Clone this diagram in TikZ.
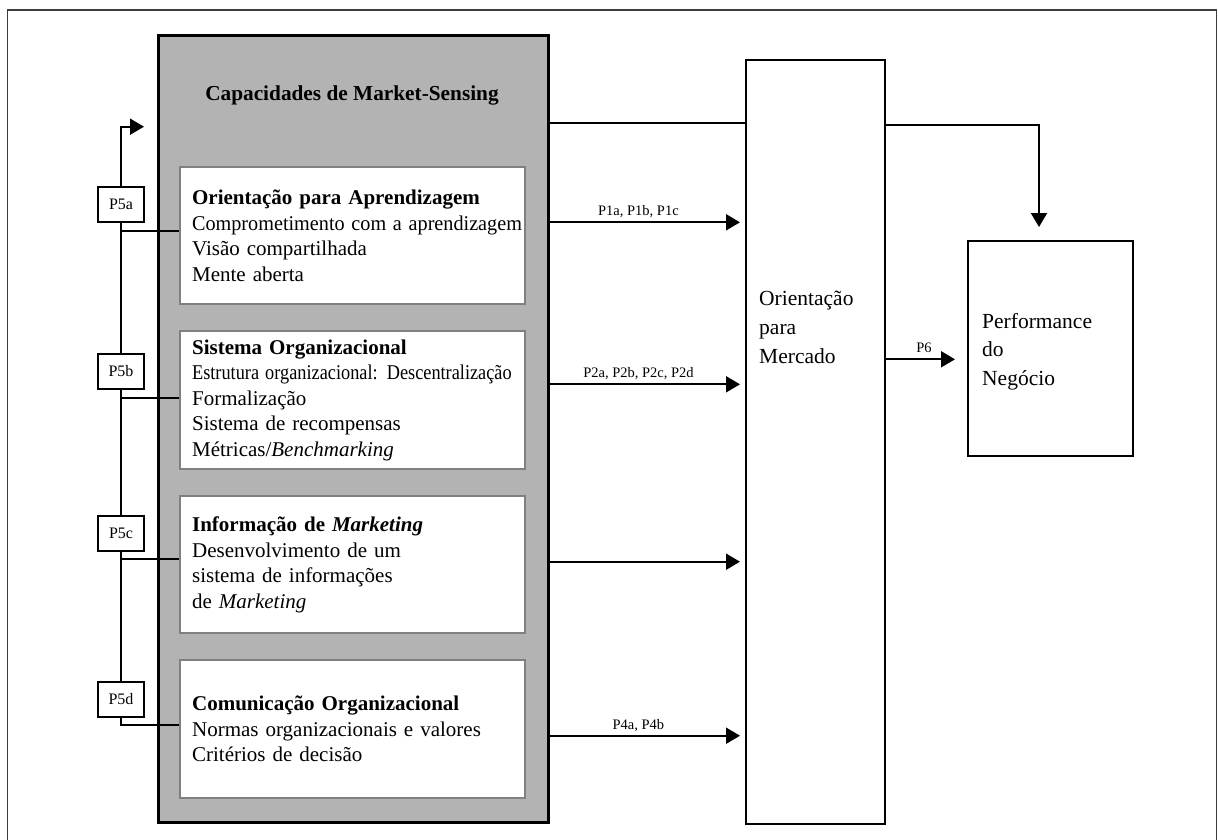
\documentclass[tikz,border=0pt]{standalone}
\usepackage{fontspec}
\usepackage{graphicx}
\setmainfont{Liberation Serif}
\usetikzlibrary{arrows.meta,calc}
\definecolor{msgray}{RGB}{179,179,179}
\definecolor{boxgray}{RGB}{128,128,128}
\definecolor{framegray}{RGB}{60,60,60}
\newcommand\fbody{\fontsize{21}{25.5}\selectfont}
\newcommand\fbig{\fontsize{21.5}{28.8}\selectfont}
\newcommand\fsmall{\fontsize{14.5}{17}\selectfont}
\newcommand\fpbox{\fontsize{16}{18}\selectfont}
\tikzset{
  msbox/.style={draw=black, line width=2.5pt, fill=msgray, inner sep=0pt, anchor=north west},
  wbox/.style={draw=boxgray, line width=2.2pt, fill=white, anchor=north west,
    inner xsep=12pt, inner ysep=0pt, text width=321pt, align=left,
    minimum width=345pt, font=\fbody},
  bbox/.style={draw=black, line width=2pt, fill=white, anchor=north west, inner sep=0pt},
  pbox/.style={draw=black, line width=2pt, fill=white, minimum width=46pt, minimum height=35pt,
    inner sep=0pt, font=\fpbox},
  conn/.style={draw=black, line width=2pt},
  arr/.style={conn, -{Triangle[length=14pt,width=16pt]}},
  plabel/.style={font=\fsmall, anchor=base, yshift=6.5pt, inner sep=0pt},
  frame/.style={draw=framegray, line width=1.5pt}
}
\begin{document}
\begin{tikzpicture}[x=1pt,y=-1pt]
\useasboundingbox (0,0) rectangle (1218,839);
\draw[frame] (7.5,10) rectangle (1216.5,870);

% main grey block
\node[msbox, minimum width=390pt, minimum height=787pt] (ms) at (157,34) {};
\node[font=\fontsize{21.3}{25}\selectfont\bfseries, anchor=base, inner sep=0pt] (mstitle) at (352,100.7) {Capacidades de Market-Sensing};

% inner white boxes
\node[wbox, minimum height=137pt] (b1) at (179,166) {\textbf{Orientação para Aprendizagem}\\
\scalebox{0.962}[1]{Comprometimento com a aprendizagem}\\
Visão compartilhada\\
Mente aberta};
\node[wbox, minimum height=138pt] (b2) at (179,330) {\textbf{Sistema Organizacional}\\
\scalebox{0.871}[1]{Estrutura organizacional: Descentralização}\\
Formalização\\
Sistema de recompensas\\
Métricas/\textit{Benchmarking}};
\node[wbox, minimum height=137pt] (b3) at (179,495) {\textbf{Informação de \textit{Marketing}}\\
Desenvolvimento de um\\
sistema de informações\\
de \textit{Marketing}};
\node[wbox, minimum height=138pt] (b4) at (179,659) {\textbf{Comunicação Organizacional}\\
Normas organizacionais e valores\\
Critérios de decisão};

% right boxes
\node[bbox, minimum width=139pt, minimum height=764pt] (om) at (745,59) {};
\node[font=\fbig, align=left, anchor=base west, inner sep=0pt] (omtext) at (759,363.3) {Orientação\\para\\Mercado};
\node[bbox, minimum width=165pt, minimum height=215pt] (perf) at (967,240) {};
\node[font=\fbig, align=left, anchor=base west, inner sep=0pt] (perftext) at (982,385.7) {Performance\\do\\Negócio};

% P5 boxes
\node[pbox] (p5a) at (121,204.7) {P5a};
\node[pbox] (p5b) at (121,371.5) {P5b};
\node[pbox] (p5c) at (121,533) {P5c};
\node[pbox] (p5d) at (121,699.2) {P5d};

% left feedback line
\coordinate (tl) at (121,126.7);
\draw[arr, shorten >=13pt] (p5a.north) -- (tl) -- (tl -| ms.west);
\draw[conn] (p5a.south) -- (p5b.north);
\draw[conn] (p5b.south) -- (p5c.north);
\draw[conn] (p5c.south) -- (p5d.north);
\path ([yshift=-7.5pt]p5a.south) coordinate (h5a);
\path ([yshift=-7.5pt]p5b.south) coordinate (h5b);
\path ([yshift=-7.5pt]p5c.south) coordinate (h5c);
\path ([yshift=-7.5pt]p5d.south) coordinate (h5d);
\draw[conn] (h5a) -- (h5a -| b1.west);
\draw[conn] (h5b) -- (h5b -| b2.west);
\draw[conn] (h5c) -- (h5c -| b3.west);
\draw[conn] (p5d.south) -- (h5d) -- (h5d -| b4.west);

% top connections
\draw[conn] (ms.east |- 0,122.7) -- (om.west |- 0,122.7);
\coordinate (dn) at (1039,125);
\draw[arr, shorten >=13pt] (om.east |- dn) -- (dn) -- (dn |- perf.north);

% proposition arrows
\draw[arr, shorten >=5pt] (ms.east |- 0,222.3) -- (om.west |- 0,222.3) node[plabel, pos=0.455] (l1) {P1a, P1b, P1c};
\draw[arr, shorten >=5pt] (ms.east |- 0,384.3) -- (om.west |- 0,384.3) node[plabel, pos=0.455] (l2) {P2a, P2b, P2c, P2d};
\draw[arr, shorten >=5pt] (ms.east |- 0,561.7) -- (om.west |- 0,561.7);
\draw[arr, shorten >=5pt] (ms.east |- 0,735.7) -- (om.west |- 0,735.7) node[plabel, pos=0.455] (l4) {P4a, P4b};
\draw[arr, shorten >=12pt] (om.east |- 0,359.3) -- (perf.west |- 0,359.3) node[plabel, pos=0.47] (l6) {P6};
\end{tikzpicture}
\end{document}
